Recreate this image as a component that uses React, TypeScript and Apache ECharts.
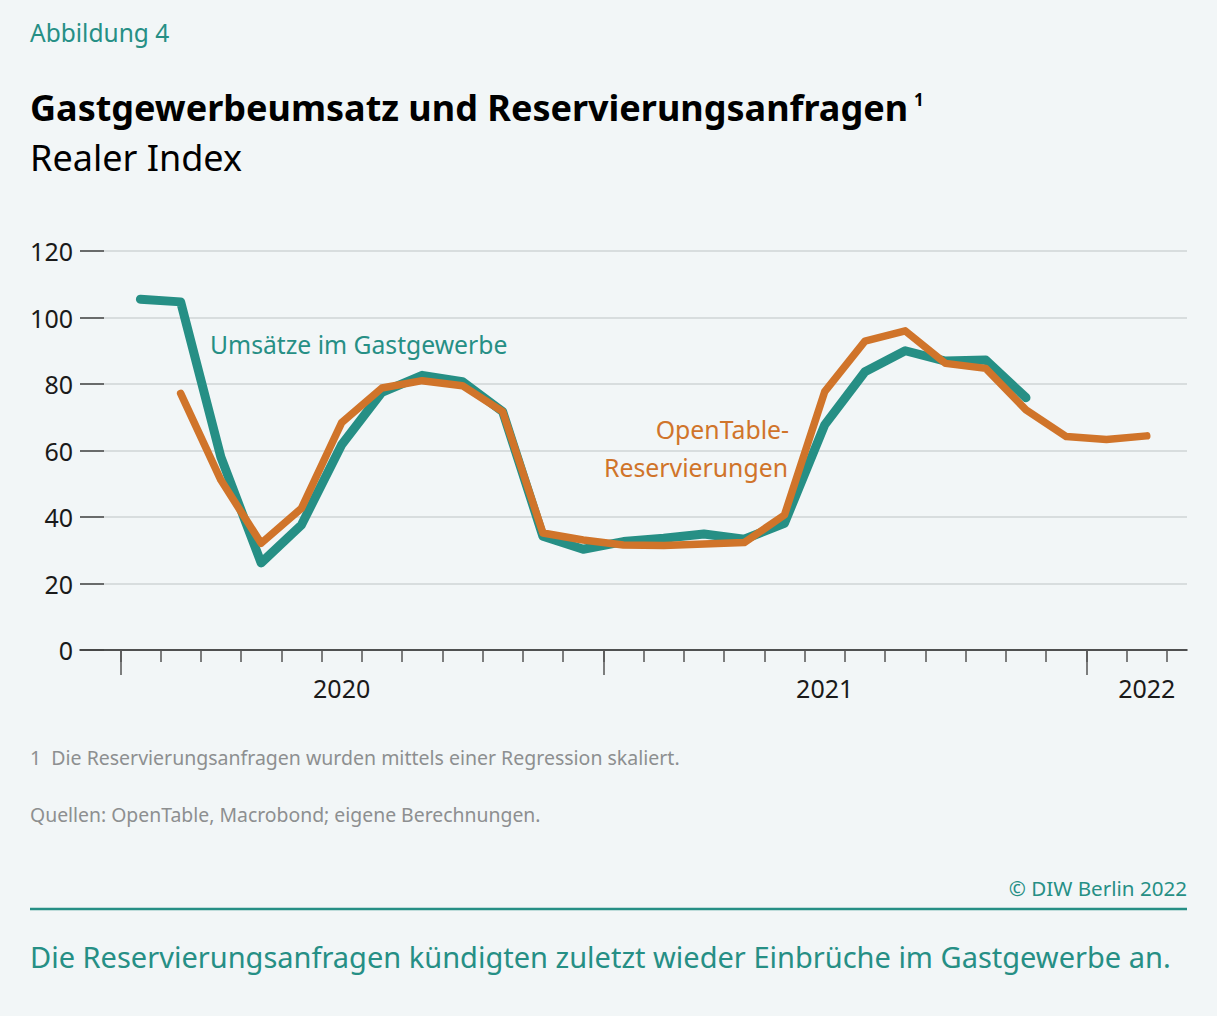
import React, { useEffect, useRef } from "react";
import * as echarts from "echarts";

// Months (points drawn at mid-month)
const months = [
  "2020-01", "2020-02", "2020-03", "2020-04", "2020-05", "2020-06",
  "2020-07", "2020-08", "2020-09", "2020-10", "2020-11", "2020-12",
  "2021-01", "2021-02", "2021-03", "2021-04", "2021-05", "2021-06",
  "2021-07", "2021-08", "2021-09", "2021-10", "2021-11", "2021-12",
  "2022-01", "2022-02",
];

// Umsätze im Gastgewerbe (Jan 2020 – Nov 2021)
const umsatz = [
  105.5, 104.7, 58, 26.2, 37.6, 61.7, 77.5, 82.6, 80.7, 71.7, 34.2, 30.3,
  32.6, 33.6, 34.9, 33.3, 38.1, 67.7, 83.7, 90.0, 86.9, 87.2, 75.9,
];
const umsatzStart = "2020-01";

// OpenTable-Reservierungen (Feb 2020 – Feb 2022)
const opentable = [
  77.2, 51.1, 32.1, 42.6, 68.4, 78.8, 81.0, 79.5, 71.7, 35.2, 33.1,
  31.6, 31.4, 31.9, 32.3, 40.6, 77.7, 92.9, 96.0, 86.2, 84.7, 72.2,
  64.2, 63.3, 64.4,
];
const opentableStart = "2020-02";

// Axis
const yTicks = { min: 0, max: 120, interval: 20 };
const monthBoundaries = Array.from({ length: 27 }, (_, i) => i);
const yearBoundaries = [0, 12, 24];
const yearLabelPositions = [5.5, 17.5, 25.5];
const yearLabels = ["2020", "2021", "2022"];

const TEAL = "#268f85";
const ORANGE = "#d0742a";
const BG = "#f2f6f7";
const FONT = "'Noto Sans', 'Open Sans', sans-serif";

function toPairs(values: number[], start: string) {
  const s = months.indexOf(start);
  return values.map((v, i) => [s + i + 0.5, v]);
}

export default function App() {
  const ref = useRef<HTMLDivElement>(null);
  useEffect(() => {
    document.body.style.margin = "0";
    document.body.style.background = BG;
    const chart = echarts.init(ref.current!, null, { renderer: "svg" });
    chart.setOption({
      animation: false,
      backgroundColor: BG,
      grid: { left: 80, right: 30, top: 251, bottom: 366 },
      xAxis: [
        {
          type: "value",
          min: -1,
          max: 26.5,
          axisLine: { show: true, onZero: false, lineStyle: { color: "#222", width: 1.5 } },
          axisTick: {
            show: true,
            length: 12,
            customValues: monthBoundaries,
            lineStyle: { color: "#555", width: 1.5 },
          },
          axisLabel: { show: false },
          splitLine: { show: false },
        },
        {
          type: "value",
          min: -1,
          max: 26.5,
          position: "bottom",
          axisLine: { show: false, onZero: false },
          axisTick: {
            show: true,
            length: 25,
            customValues: yearBoundaries,
            lineStyle: { color: "#555", width: 1.5 },
          },
          axisLabel: {
            show: true,
            customValues: yearLabelPositions,
            margin: 25,
            fontSize: 25,
            color: "#1a1a1a",
            fontFamily: FONT,
            formatter: (v: number) => {
              const i = yearLabelPositions.indexOf(v);
              return i >= 0 ? yearLabels[i] : "";
            },
          },
          splitLine: { show: false },
        },
      ],
      yAxis: {
        type: "value",
        min: yTicks.min,
        max: yTicks.max,
        interval: yTicks.interval,
        axisLine: { show: false, onZero: false },
        axisTick: {
          show: true,
          inside: true,
          length: 24,
          lineStyle: { color: "#444", width: 1.5 },
        },
        axisLabel: {
          margin: 7,
          fontSize: 25,
          color: "#1a1a1a",
          fontFamily: FONT,
          padding: [0, 0, 6, 0],
        },
        splitLine: { show: true, lineStyle: { color: "#cfd4d6", width: 1.5 } },
      },
      series: [
        {
          name: "Umsätze im Gastgewerbe",
          type: "line",
          xAxisIndex: 0,
          data: toPairs(umsatz, umsatzStart),
          symbol: "none",
          lineStyle: { color: TEAL, width: 9, cap: "round", join: "round" },
          z: 3,
        },
        {
          name: "OpenTable-Reservierungen",
          type: "line",
          xAxisIndex: 0,
          data: toPairs(opentable, opentableStart),
          symbol: "none",
          lineStyle: { color: ORANGE, width: 7.5, cap: "round", join: "round" },
          z: 4,
        },
      ],
      graphic: [
        {
          type: "text",
          left: 30,
          top: 20,
          style: { text: "Abbildung 4", fill: TEAL, fontSize: 24.5, fontFamily: FONT },
        },
        {
          type: "text",
          left: 30,
          top: 89,
          style: {
            text: "Gastgewerbeumsatz und Reservierungsanfragen",
            fill: "#000",
            fontSize: 36,
            fontWeight: "bold",
            fontFamily: FONT,
          },
        },
        {
          type: "text",
          left: 914,
          top: 91,
          style: { text: "1", fill: "#000", fontSize: 17, fontWeight: "bold", fontFamily: FONT },
        },
        {
          type: "text",
          left: 30,
          top: 139,
          style: { text: "Realer Index", fill: "#000", fontSize: 36, fontFamily: FONT },
        },
        {
          type: "text",
          left: 210,
          top: 332,
          style: { text: "Umsätze im Gastgewerbe", fill: TEAL, fontSize: 24.7, fontFamily: FONT },
        },
        {
          type: "text",
          right: 1217 - 789,
          top: 416,
          style: { text: "OpenTable-", fill: ORANGE, fontSize: 24.8, fontFamily: FONT },
        },
        {
          type: "text",
          right: 1217 - 788,
          top: 454,
          style: { text: "Reservierungen", fill: ORANGE, fontSize: 24.8, fontFamily: FONT },
        },
        {
          type: "text",
          left: 30,
          top: 747,
          style: {
            text: "1  Die Reservierungsanfragen wurden mittels einer Regression skaliert.",
            fill: "#8d8f90",
            fontSize: 19.5,
            fontFamily: FONT,
          },
        },
        {
          type: "text",
          left: 30,
          top: 805,
          style: {
            text: "Quellen: OpenTable, Macrobond; eigene Berechnungen.",
            fill: "#8d8f90",
            fontSize: 19.4,
            fontFamily: FONT,
          },
        },
        {
          type: "text",
          right: 30,
          top: 877,
          style: { text: "© DIW Berlin 2022", fill: TEAL, fontSize: 20.6, fontFamily: FONT },
        },
        {
          type: "line",
          shape: { x1: 30, y1: 909, x2: 1187, y2: 909 },
          style: { stroke: TEAL, lineWidth: 2.5 },
        },
        {
          type: "text",
          left: 30,
          top: 942,
          style: {
            text: "Die Reservierungsanfragen kündigten zuletzt wieder Einbrüche im Gastgewerbe an.",
            fill: TEAL,
            fontSize: 29,
            fontFamily: FONT,
          },
        },
      ],
    });
    return () => chart.dispose();
  }, []);
  return <div ref={ref} style={{ width: 1217, height: 1016, background: BG }} />;
}
